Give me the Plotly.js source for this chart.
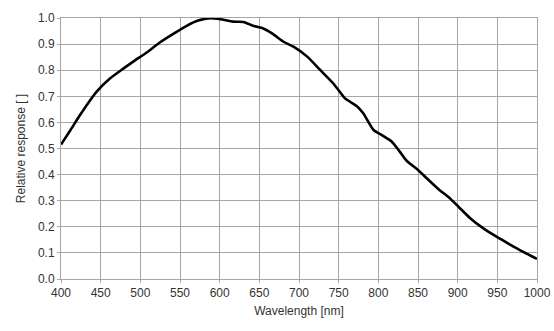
<!DOCTYPE html>
<html>
<head>
<meta charset="utf-8">
<script src="https://cdn.plot.ly/plotly-3.0.1.min.js"></script>
<style>html,body{margin:0;padding:0;background:#fff;}#chart{width:554px;height:331px;}</style>
</head>
<body>
<div id="chart"></div>
<script>
const wavelength = [400, 412, 424, 437, 445, 462, 479, 491, 508, 525, 542, 559, 573, 588, 601, 617, 630, 643, 655, 666, 680, 693, 710, 727, 743, 758, 767, 773, 781, 794, 804, 817, 827, 836, 850, 861, 877, 888, 901, 915, 932, 949, 966, 982, 1000];
const response = [0.515, 0.571, 0.628, 0.686, 0.718, 0.769, 0.807, 0.833, 0.868, 0.907, 0.940, 0.971, 0.990, 0.999, 0.995, 0.986, 0.985, 0.969, 0.960, 0.941, 0.910, 0.890, 0.853, 0.800, 0.750, 0.692, 0.674, 0.662, 0.635, 0.571, 0.552, 0.526, 0.488, 0.452, 0.418, 0.386, 0.341, 0.315, 0.277, 0.235, 0.195, 0.162, 0.132, 0.105, 0.077];
const xTicks = [400,450,500,550,600,650,700,750,800,850,900,950,1000];
const yTicks = [0,0.1,0.2,0.3,0.4,0.5,0.6,0.7,0.8,0.9,1.0];

const trace = {
  x: wavelength, y: response, type: 'scatter', mode: 'lines',
  line: {color: '#000', width: 2.6, shape: 'spline', smoothing: 0.6},
  hoverinfo: 'skip'
};
const font = {family: 'Liberation Sans, Arial, sans-serif', size: 12, color: '#333'};
const layout = {
  width: 554, height: 331,
  margin: {l: 61, r: 17, t: 18, b: 52},
  paper_bgcolor: '#fff', plot_bgcolor: '#fff',
  showlegend: false,
  font: font,
  xaxis: {
    range: [400, 1000], tickvals: xTicks, ticktext: xTicks.map(String),
    showgrid: true, gridcolor: '#a6a6a6', gridwidth: 1,
    showline: true, linecolor: '#a6a6a6', linewidth: 1, mirror: true,
    ticks: 'outside', ticklen: 3, tickcolor: '#a6a6a6',
    zeroline: false,
    title: {text: 'Wavelength [nm]', font: font, standoff: 7}
  },
  yaxis: {
    range: [0, 1.0], tickvals: yTicks, ticktext: yTicks.map(v => v.toFixed(1)),
    showgrid: true, gridcolor: '#a6a6a6', gridwidth: 1,
    showline: true, linecolor: '#a6a6a6', linewidth: 1, mirror: true,
    ticks: 'outside', ticklen: 3, tickcolor: '#a6a6a6',
    zeroline: false,
    title: {text: 'Relative response [ ]', font: font, standoff: 9}
  }
};
Plotly.newPlot('chart', [trace], layout, {staticPlot: true, displayModeBar: false});
</script>
</body>
</html>
